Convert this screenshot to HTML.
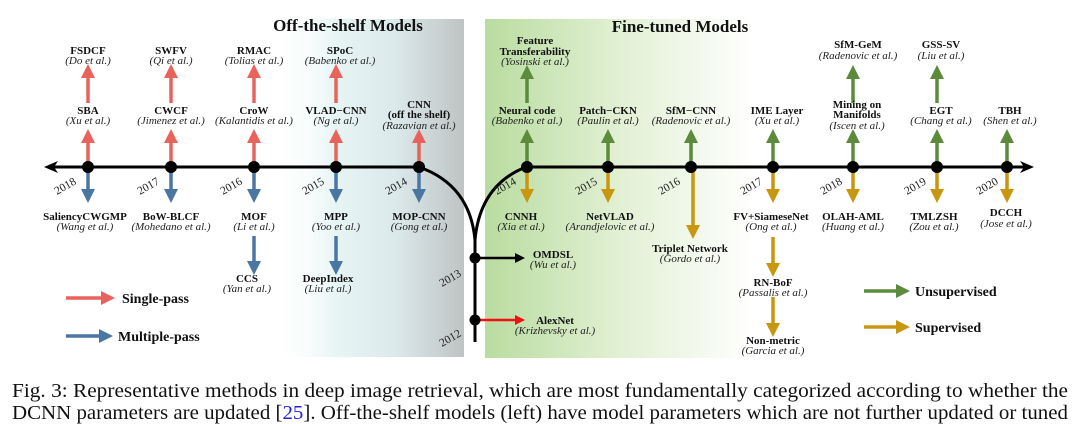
<!DOCTYPE html>
<html><head><meta charset="utf-8"><style>
body{margin:0;background:#fff}
svg{display:block}
.n{font-family:"Liberation Serif",serif;font-weight:bold;font-size:11px;fill:#111;text-anchor:middle}
.a{font-family:"Liberation Serif",serif;font-style:italic;font-size:11px;fill:#222;text-anchor:middle}
.y{font-family:"Liberation Serif",serif;font-size:11.5px;fill:#222}
.h{font-family:"Liberation Serif",serif;font-weight:bold;font-size:17px;fill:#111;text-anchor:middle}
.l{font-family:"Liberation Serif",serif;font-weight:bold;font-size:14px;fill:#111}
.c{font-family:"Liberation Serif",serif;font-size:19.5px;fill:#111}
</style></head><body>
<svg width="1080" height="424" viewBox="0 0 1080 424" xmlns="http://www.w3.org/2000/svg">
<defs>
<linearGradient id="gg" x1="0" x2="1" y1="0" y2="0">
<stop offset="0" stop-color="#fff" stop-opacity="0"/>
<stop offset="0.35" stop-color="#e6f4f4"/>
<stop offset="0.65" stop-color="#dbe9ea"/>
<stop offset="1" stop-color="#bfc3c4"/>
</linearGradient>
<linearGradient id="gr" x1="0" x2="1" y1="0" y2="0">
<stop offset="0" stop-color="#b9dca0"/>
<stop offset="0.5" stop-color="#e2f0d4"/>
<stop offset="1" stop-color="#fff"/>
</linearGradient>
<marker id="mr" markerWidth="4" markerHeight="4" refX="2" refY="2" orient="auto" markerUnits="strokeWidth"><path d="M0,0L4,2L0,4z" fill="#e8635c"/></marker>
<marker id="mb" markerWidth="4" markerHeight="4" refX="2" refY="2" orient="auto" markerUnits="strokeWidth"><path d="M0,0L4,2L0,4z" fill="#4a76a3"/></marker>
<marker id="mg" markerWidth="4" markerHeight="4" refX="2" refY="2" orient="auto" markerUnits="strokeWidth"><path d="M0,0L4,2L0,4z" fill="#5b8b3b"/></marker>
<marker id="my" markerWidth="4" markerHeight="4" refX="2" refY="2" orient="auto" markerUnits="strokeWidth"><path d="M0,0L4,2L0,4z" fill="#c8960f"/></marker>
<marker id="mk" markerWidth="4" markerHeight="4" refX="2" refY="2" orient="auto" markerUnits="strokeWidth"><path d="M0,0L4,2L0,4z" fill="#000"/></marker>
<marker id="mR" markerWidth="4" markerHeight="4" refX="2" refY="2" orient="auto" markerUnits="strokeWidth"><path d="M0,0L4,2L0,4z" fill="#f01010"/></marker>
</defs>
<rect x="270" y="19" width="194" height="338" fill="url(#gg)"/>
<rect x="485" y="19" width="270" height="339" fill="url(#gr)"/>
<text class="h" x="348" y="31">Off-the-shelf Models</text>
<text class="h" x="680" y="32">Fine-tuned Models</text>

<g stroke-width="3.5" fill="none">
<!-- red up arrows -->
<g stroke="#e8635c" marker-end="url(#mr)">
<line x1="88" y1="165" x2="88" y2="136"/><line x1="171" y1="165" x2="171" y2="136"/><line x1="254" y1="165" x2="254" y2="136"/><line x1="336" y1="165" x2="336" y2="136"/><line x1="419" y1="165" x2="419" y2="136"/>
<line x1="88" y1="103" x2="88" y2="71"/><line x1="171" y1="103" x2="171" y2="71"/><line x1="254" y1="103" x2="254" y2="71"/><line x1="336" y1="103" x2="336" y2="71"/>
<line x1="66" y1="298" x2="108" y2="298"/>
</g>
<g stroke="#4a76a3" marker-end="url(#mb)">
<line x1="88" y1="170" x2="88" y2="196"/><line x1="171" y1="170" x2="171" y2="196"/><line x1="254" y1="170" x2="254" y2="196"/><line x1="336" y1="170" x2="336" y2="196"/><line x1="419" y1="170" x2="419" y2="196"/>
<line x1="254" y1="236" x2="254" y2="268"/><line x1="336" y1="236" x2="336" y2="268"/>
<line x1="66" y1="336" x2="106" y2="336"/>
</g>
<g stroke="#5b8b3b" marker-end="url(#mg)">
<line x1="527" y1="165" x2="527" y2="136"/><line x1="608" y1="165" x2="608" y2="136"/><line x1="691" y1="165" x2="691" y2="136"/><line x1="773" y1="165" x2="773" y2="136"/><line x1="853" y1="165" x2="853" y2="136"/><line x1="937" y1="165" x2="937" y2="136"/><line x1="1007" y1="165" x2="1007" y2="136"/>
<line x1="527" y1="103" x2="527" y2="72"/><line x1="853" y1="103" x2="853" y2="72"/><line x1="937" y1="103" x2="937" y2="72"/>
<line x1="864" y1="291" x2="903" y2="291"/>
</g>
<g stroke="#c8960f" marker-end="url(#my)">
<line x1="527" y1="170" x2="527" y2="196"/><line x1="608" y1="170" x2="608" y2="196"/><line x1="693" y1="170" x2="693" y2="232"/><line x1="773" y1="170" x2="773" y2="196"/><line x1="853" y1="170" x2="853" y2="196"/><line x1="937" y1="170" x2="937" y2="196"/><line x1="1007" y1="170" x2="1007" y2="196"/>
<line x1="773" y1="237" x2="773" y2="270"/><line x1="773" y1="297" x2="773" y2="330"/>
<line x1="864" y1="327" x2="903" y2="327"/>
</g>
</g>
<!-- timeline -->
<g stroke="#000" stroke-width="3" fill="none">
<line x1="52" y1="167" x2="419" y2="167"/>
<polygon points="44,167 58,161 54,167 58,173" fill="#000" stroke="none"/>
<line x1="526" y1="167" x2="1024" y2="167"/>
<polygon points="1034,167 1020,161 1024,167 1020,173" fill="#000" stroke="none"/>
<path d="M419,167 Q470,185 475,240"/>
<path d="M526,167 Q480,185 475,240"/>
<line x1="475" y1="238" x2="475" y2="342"/>
<line x1="475" y1="258" x2="520" y2="258" stroke-width="2.5" marker-end="url(#mk)"/>
<line x1="475" y1="320" x2="520" y2="320" stroke="#f01010" stroke-width="2.5" marker-end="url(#mR)"/>
</g>
<g fill="#000">
<circle cx="88" cy="167" r="6"/><circle cx="171" cy="167" r="6"/><circle cx="254" cy="167" r="6"/><circle cx="336" cy="167" r="6"/><circle cx="419" cy="167" r="6"/>
<circle cx="527" cy="167" r="6"/><circle cx="608" cy="167" r="6"/><circle cx="691" cy="167" r="6"/><circle cx="773" cy="167" r="6"/><circle cx="853" cy="167" r="6"/><circle cx="937" cy="167" r="6"/><circle cx="1007" cy="167" r="6"/>
<circle cx="475" cy="258" r="5.5"/><circle cx="475" cy="320" r="5.5"/>
</g>
<!-- years -->
<g class="y">
<text transform="translate(57,195) rotate(-30)">2018</text>
<text transform="translate(140,195) rotate(-30)">2017</text>
<text transform="translate(223,195) rotate(-30)">2016</text>
<text transform="translate(305,195) rotate(-30)">2015</text>
<text transform="translate(388,195) rotate(-30)">2014</text>
<text transform="translate(497,195) rotate(-30)">2014</text>
<text transform="translate(578,195) rotate(-30)">2015</text>
<text transform="translate(661,195) rotate(-30)">2016</text>
<text transform="translate(743,195) rotate(-30)">2017</text>
<text transform="translate(823,195) rotate(-30)">2018</text>
<text transform="translate(907,195) rotate(-30)">2019</text>
<text transform="translate(979,195) rotate(-30)">2020</text>
<text transform="translate(442,287) rotate(-30)">2013</text>
<text transform="translate(442,347) rotate(-30)">2012</text>
</g>
<!-- labels -->
<text class="n" x="88" y="54">FSDCF</text><text class="a" x="88" y="64">(Do et al.)</text>
<text class="n" x="171" y="54">SWFV</text><text class="a" x="171" y="64">(Qi et al.)</text>
<text class="n" x="254" y="54">RMAC</text><text class="a" x="254" y="64">(Tolias et al.)</text>
<text class="n" x="340" y="54">SPoC</text><text class="a" x="340" y="64">(Babenko et al.)</text>
<text class="n" x="88" y="114">SBA</text><text class="a" x="88" y="124">(Xu et al.)</text>
<text class="n" x="171" y="114">CWCF</text><text class="a" x="171" y="124">(Jimenez et al.)</text>
<text class="n" x="254" y="114">CroW</text><text class="a" x="254" y="124">(Kalantidis et al.)</text>
<text class="n" x="336" y="114">VLAD−CNN</text><text class="a" x="336" y="124">(Ng et al.)</text>
<text class="n" x="419" y="108">CNN</text><text class="n" x="419" y="118">(off the shelf)</text><text class="a" x="419" y="129">(Razavian et al.)</text>
<text class="n" x="85" y="220">SaliencyCWGMP</text><text class="a" x="85" y="230">(Wang et al.)</text>
<text class="n" x="171" y="220">BoW-BLCF</text><text class="a" x="171" y="230">(Mohedano et al.)</text>
<text class="n" x="254" y="220">MOF</text><text class="a" x="254" y="230">(Li et al.)</text>
<text class="n" x="336" y="220">MPP</text><text class="a" x="336" y="230">(Yoo et al.)</text>
<text class="n" x="419" y="220">MOP-CNN</text><text class="a" x="419" y="230">(Gong et al.)</text>
<text class="n" x="247" y="282">CCS</text><text class="a" x="247" y="292">(Yan et al.)</text>
<text class="n" x="328" y="282">DeepIndex</text><text class="a" x="328" y="292">(Liu et al.)</text>
<text class="n" x="535" y="44">Feature</text><text class="n" x="535" y="55">Transferability</text><text class="a" x="535" y="65">(Yosinski et al.)</text>
<text class="n" x="527" y="114">Neural code</text><text class="a" x="527" y="124">(Babenko et al.)</text>
<text class="n" x="608" y="114">Patch−CKN</text><text class="a" x="608" y="124">(Paulin et al.)</text>
<text class="n" x="691" y="114">SfM−CNN</text><text class="a" x="691" y="124">(Radenovic et al.)</text>
<text class="n" x="777" y="114">IME Layer</text><text class="a" x="777" y="124">(Xu et al.)</text>
<text class="n" x="857" y="108">Mining on</text><text class="n" x="857" y="118">Manifolds</text><text class="a" x="857" y="129">(Iscen et al.)</text>
<text class="n" x="858" y="48">SfM-GeM</text><text class="a" x="858" y="59">(Radenovic et al.)</text>
<text class="n" x="941" y="48">GSS-SV</text><text class="a" x="941" y="59">(Liu et al.)</text>
<text class="n" x="941" y="114">EGT</text><text class="a" x="941" y="124">(Chang et al.)</text>
<text class="n" x="1010" y="114">TBH</text><text class="a" x="1010" y="124">(Shen et al.)</text>
<text class="n" x="521" y="220">CNNH</text><text class="a" x="521" y="230">(Xia et al.)</text>
<text class="n" x="610" y="220">NetVLAD</text><text class="a" x="610" y="230">(Arandjelovic et al.)</text>
<text class="n" x="690" y="252">Triplet Network</text><text class="a" x="690" y="262">(Gordo et al.)</text>
<text class="n" x="771" y="220">FV+SiameseNet</text><text class="a" x="771" y="230">(Ong et al.)</text>
<text class="n" x="853" y="220">OLAH-AML</text><text class="a" x="853" y="230">(Huang et al.)</text>
<text class="n" x="934" y="220">TMLZSH</text><text class="a" x="934" y="230">(Zou et al.)</text>
<text class="n" x="1006" y="216">DCCH</text><text class="a" x="1006" y="227">(Jose et al.)</text>
<text class="n" x="773" y="286">RN-BoF</text><text class="a" x="773" y="296">(Passalis et al.)</text>
<text class="n" x="773" y="344">Non-metric</text><text class="a" x="773" y="354">(Garcia et al.)</text>
<text class="n" x="553" y="258">OMDSL</text><text class="a" x="553" y="268">(Wu et al.)</text>
<text class="n" x="555" y="324">AlexNet</text><text class="a" x="555" y="334">(Krizhevsky et al.)</text>
<text class="l" x="122" y="303">Single-pass</text>
<text class="l" x="118" y="341">Multiple-pass</text>
<text class="l" x="915" y="296">Unsupervised</text>
<text class="l" x="915" y="332">Supervised</text>
<text class="c" x="12" y="397" textLength="1056" lengthAdjust="spacingAndGlyphs">Fig. 3: Representative methods in deep image retrieval, which are most fundamentally categorized according to whether the</text>
<text class="c" x="12" y="419" textLength="1056" lengthAdjust="spacingAndGlyphs">DCNN parameters are updated [<tspan fill="#2222dd">25</tspan>]. Off-the-shelf models (left) have model parameters which are not further updated or tuned</text>
</svg>
</body></html>
